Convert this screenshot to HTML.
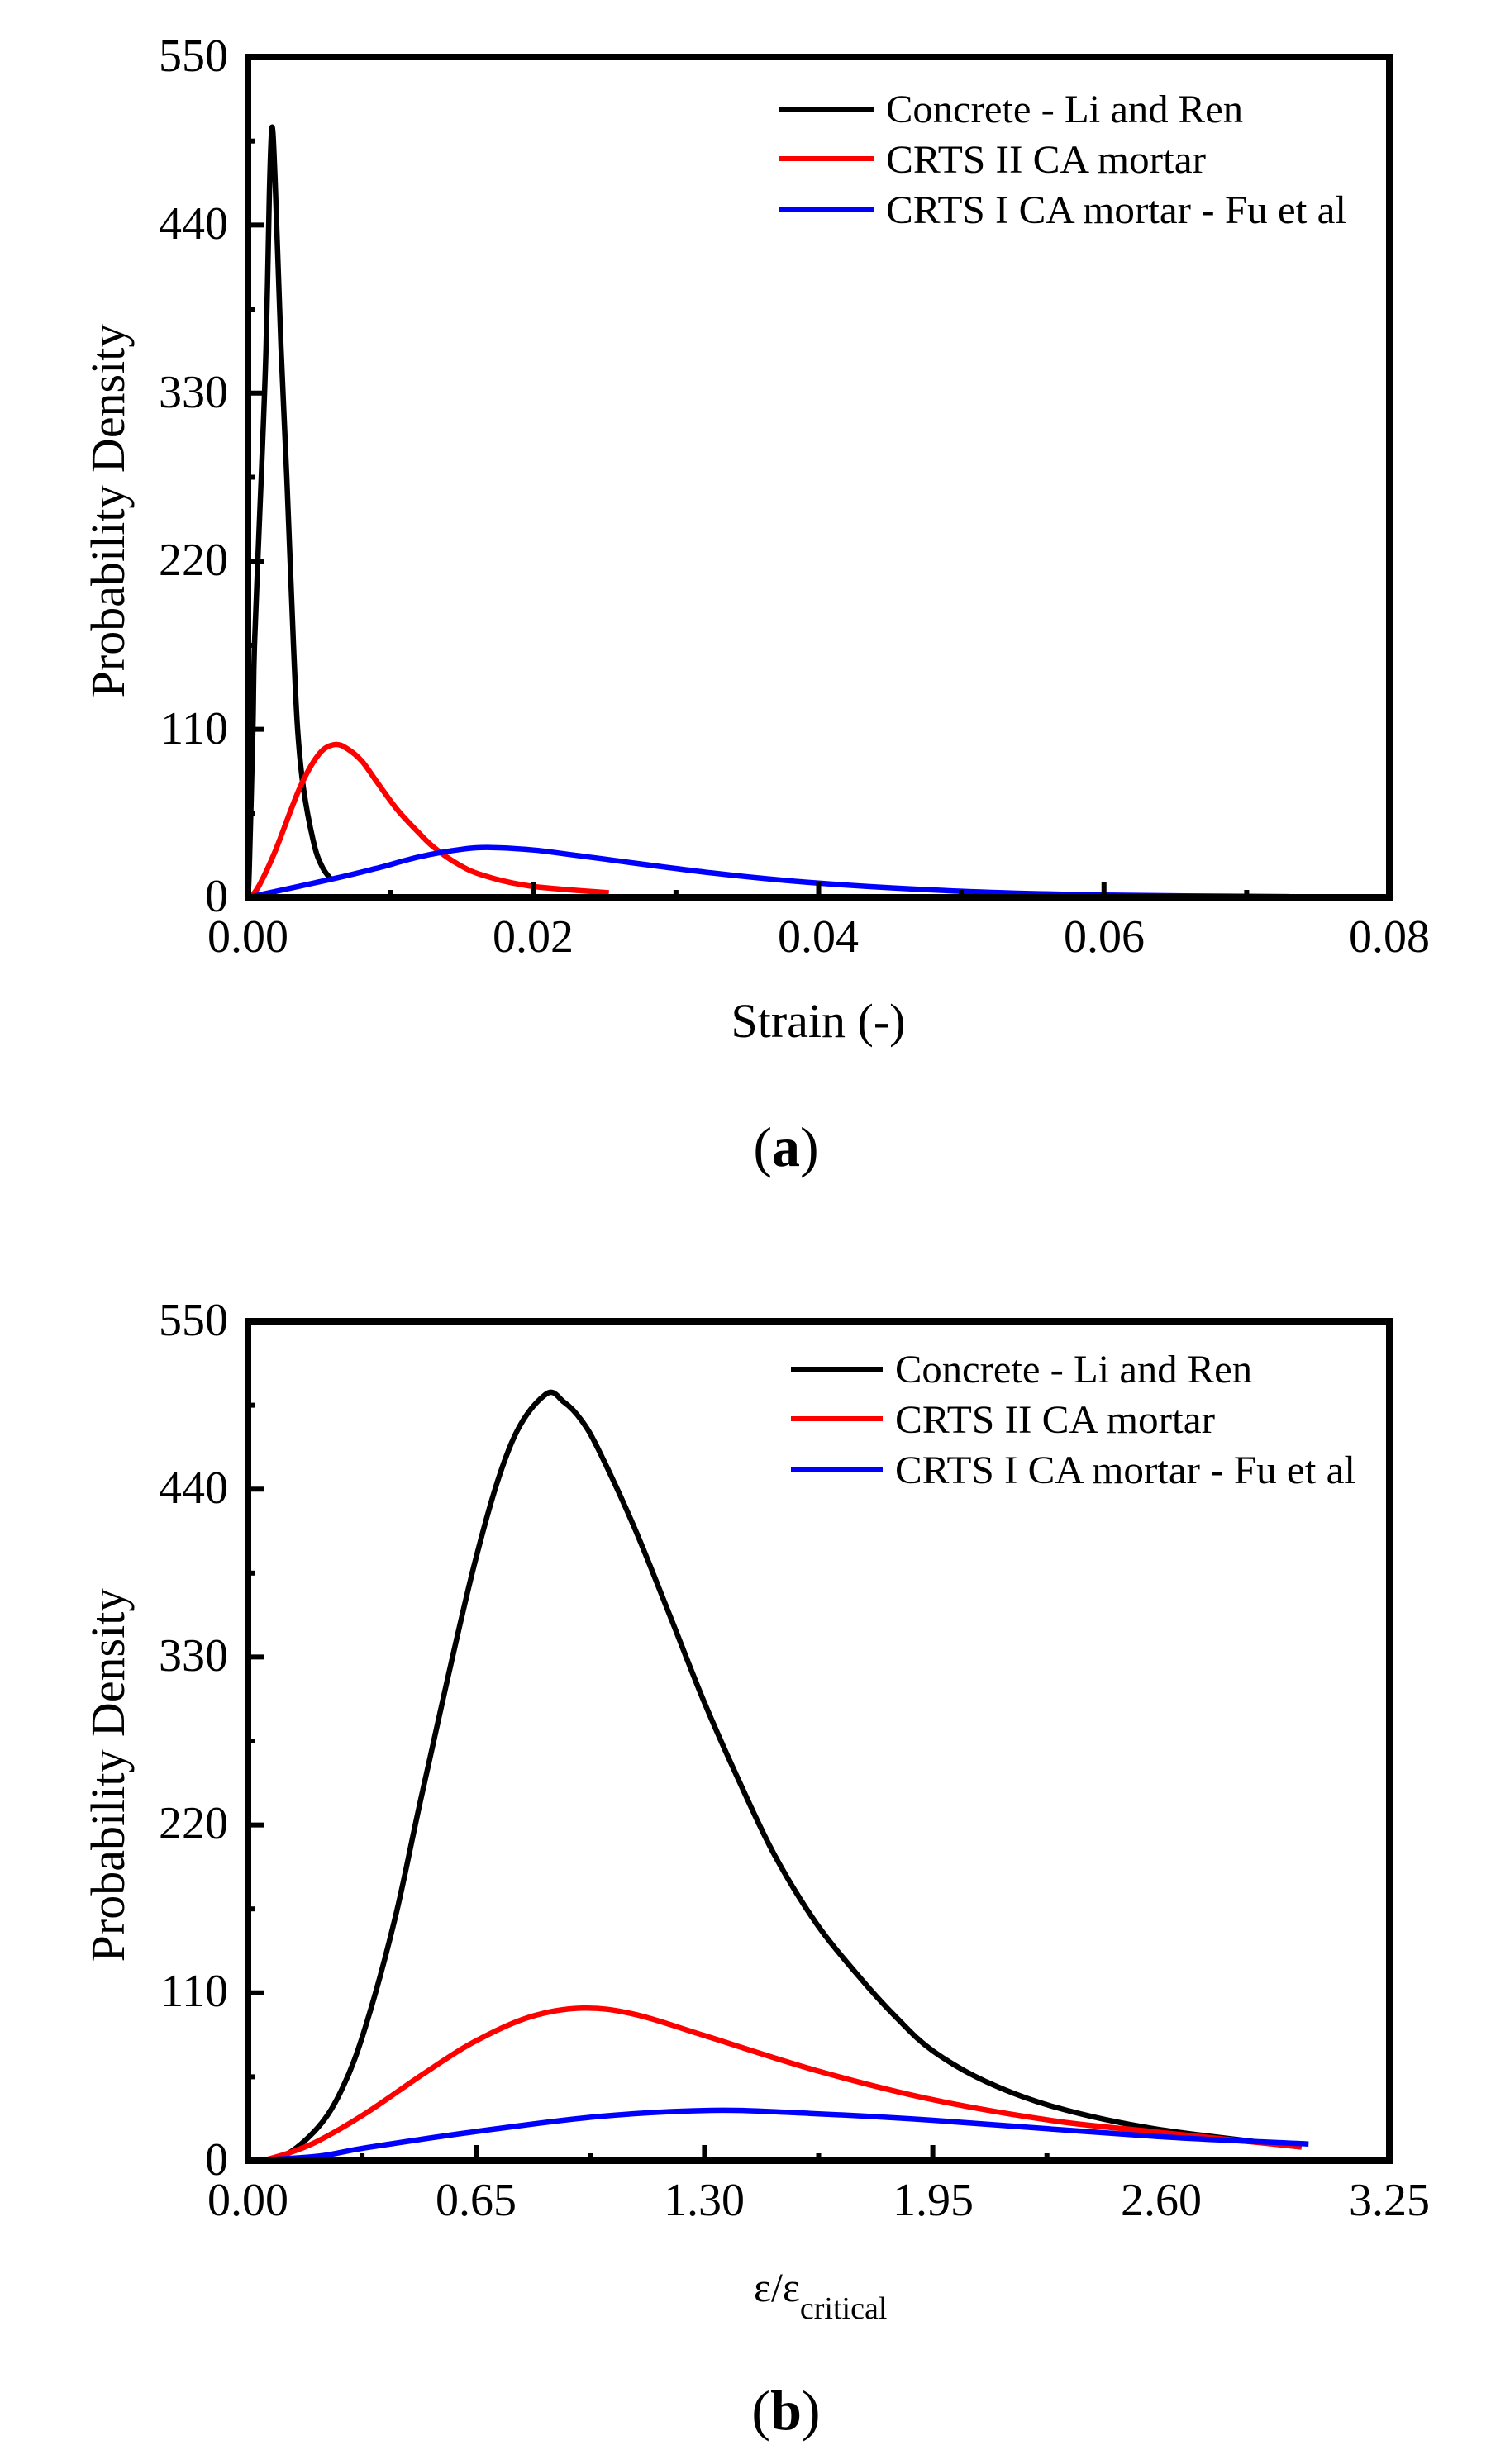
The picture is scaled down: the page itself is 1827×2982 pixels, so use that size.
<!DOCTYPE html>
<html><head><meta charset="utf-8">
<style>
html,body{margin:0;padding:0;background:#fff;}
svg{display:block;}
text{font-family:"Liberation Serif","Times New Roman",serif;fill:#000;}
</style></head>
<body>
<svg id="s" width="1827" height="2982" viewBox="0 0 1827 2982" xmlns="http://www.w3.org/2000/svg">
<rect width="1827" height="2982" fill="#fff"/>
<g id="ga"></g>
<g id="gb"></g>
<g font-size="56" text-anchor="end">
<text x="276" y="86">550</text>
<text x="276" y="289">440</text>
<text x="276" y="493">330</text>
<text x="276" y="696">220</text>
<text x="276" y="900">110</text>
<text x="276" y="1103">0</text>
</g>
<g font-size="56" text-anchor="middle">
<text x="300" y="1152">0.00</text>
<text x="645" y="1152">0.02</text>
<text x="990" y="1152">0.04</text>
<text x="1336" y="1152">0.06</text>
<text x="1681" y="1152">0.08</text>
</g>
<text x="990" y="1255" font-size="58" text-anchor="middle">Strain (-)</text>
<text transform="translate(150,618) rotate(-90)" font-size="58" text-anchor="middle">Probability Density</text>
<text x="951" y="1411" font-size="68" text-anchor="middle">(<tspan font-weight="bold">a</tspan>)</text>
<g stroke-width="6">
<line x1="943" y1="132" x2="1058" y2="132" stroke="#000"/>
<line x1="943" y1="192" x2="1058" y2="192" stroke="#f00"/>
<line x1="943" y1="253" x2="1058" y2="253" stroke="#00f"/>
</g>
<g font-size="48">
<text x="1072" y="148" textLength="432" lengthAdjust="spacingAndGlyphs">Concrete - Li and Ren</text>
<text x="1072" y="209" textLength="387" lengthAdjust="spacingAndGlyphs">CRTS II CA mortar</text>
<text x="1072" y="270" textLength="557" lengthAdjust="spacingAndGlyphs">CRTS I CA mortar - Fu et al</text>
</g>
<g font-size="56" text-anchor="end">
<text x="276" y="1616">550</text>
<text x="276" y="1819">440</text>
<text x="276" y="2022">330</text>
<text x="276" y="2225">220</text>
<text x="276" y="2428">110</text>
<text x="276" y="2632">0</text>
</g>
<g font-size="56" text-anchor="middle">
<text x="300" y="2681">0.00</text>
<text x="576" y="2681">0.65</text>
<text x="852" y="2681">1.30</text>
<text x="1129" y="2681">1.95</text>
<text x="1405" y="2681">2.60</text>
<text x="1681" y="2681">3.25</text>
</g>
<text x="912" y="2785" font-size="50">ε/ε<tspan font-size="38" dy="21">critical</tspan></text>
<text transform="translate(150,2148) rotate(-90)" font-size="58" text-anchor="middle">Probability Density</text>
<text x="951" y="2940" font-size="68" text-anchor="middle">(<tspan font-weight="bold">b</tspan>)</text>
<g stroke-width="6">
<line x1="957" y1="1657" x2="1068" y2="1657" stroke="#000"/>
<line x1="957" y1="1717" x2="1068" y2="1717" stroke="#f00"/>
<line x1="957" y1="1778" x2="1068" y2="1778" stroke="#00f"/>
</g>
<g font-size="48">
<text x="1083" y="1673" textLength="432" lengthAdjust="spacingAndGlyphs">Concrete - Li and Ren</text>
<text x="1083" y="1734" textLength="387" lengthAdjust="spacingAndGlyphs">CRTS II CA mortar</text>
<text x="1083" y="1795" textLength="557" lengthAdjust="spacingAndGlyphs">CRTS I CA mortar - Fu et al</text>
</g>
</svg>
<script>
var NS="http://www.w3.org/2000/svg";
function el(g,tag,attrs){var e=document.createElementNS(NS,tag);for(var k in attrs)e.setAttribute(k,attrs[k]);g.appendChild(e);return e;}
function cr(pts){
  var d="M"+pts[0][0].toFixed(1)+","+pts[0][1].toFixed(1);
  for(var i=0;i<pts.length-1;i++){
    var p0=pts[i-1]||pts[i],p1=pts[i],p2=pts[i+1],p3=pts[i+2]||p2;
    var c1=[p1[0]+(p2[0]-p0[0])/6,p1[1]+(p2[1]-p0[1])/6];
    var c2=[p2[0]-(p3[0]-p1[0])/6,p2[1]-(p3[1]-p1[1])/6];
    d+=" C"+c1[0].toFixed(1)+","+c1[1].toFixed(1)+" "+c2[0].toFixed(1)+","+c2[1].toFixed(1)+" "+p2[0].toFixed(1)+","+p2[1].toFixed(1);
  }
  return d;
}
function chart(gid,top,bot,xmax,xstep,series){
  var g=document.getElementById(gid),L=300,R=1681,W=R-L,H=bot-top;
  function X(v){return L+v/xmax*W;} function Y(v){return bot-v/550*H;}
  series.forEach(function(s){
    var pts=s.d.map(function(p){return [X(p[0]),Y(p[1])];});
    el(g,"path",{d:cr(pts),fill:"none",stroke:s.c,"stroke-width":6.5,"stroke-linejoin":"round"});
  });
  for(var i=1;i<10;i++){var y=Y(i*55),len=(i%2==0)?19:9;
    el(g,"line",{x1:L,y1:y,x2:L+len,y2:y,stroke:"#000","stroke-width":6});}
  for(var i=1;i<8;i++){var x=X(i*xstep),len=(i%2==0)?19:9;
    el(g,"line",{x1:x,y1:bot,x2:x,y2:bot-len,stroke:"#000","stroke-width":6});}
  el(g,"rect",{x:L,y:top,width:W,height:H,fill:"none",stroke:"#000","stroke-width":8});
}
chart("ga",69,1086,0.08,0.01,[
 {c:"#000",d:[[0,0],[0.0001,20],[0.00035,110],[0.00046,165],[0.00093,275],[0.00127,360],[0.0015,460],[0.00168,504],[0.0019,470],[0.00232,360],[0.00272,275],[0.00319,165],[0.00348,110],[0.00388,72],[0.00463,35],[0.0052,20],[0.0058,12]]},
 {c:"#f00",d:[[0.0002,0],[0.0008,8],[0.0019,30],[0.00365,72],[0.005,94],[0.0061,100],[0.007,97],[0.008,89],[0.009,76],[0.0105,57],[0.012,42],[0.013,33],[0.0145,23],[0.0163,15],[0.0197,7.5],[0.0253,3]]},
 {c:"#00f",d:[[0,0],[0.0059,12],[0.009,19],[0.012,26.5],[0.015,31.5],[0.017,32.6],[0.02,31],[0.023,27.5],[0.0325,16],[0.04,9.3],[0.05,4],[0.06,1.5],[0.073,0.5]]}
]);
chart("gb",1599,2615,3.25,0.325,[
 {c:"#000",d:[[0,0],[0.1,3],[0.2,22],[0.27,48],[0.335,88],[0.42,160],[0.5,245],[0.645,391],[0.75,470],[0.847,502],[0.9,497],[0.95,485],[1.0,465],[1.1,415],[1.2,358],[1.3,300],[1.4,248],[1.5,200],[1.62,155],[1.75,118],[1.85,93],[1.95,72],[2.1,52],[2.3,35],[2.58,21],[3.0,9]]},
 {c:"#f00",d:[[0.04,0],[0.115,5],[0.2,13],[0.335,31],[0.5,57],[0.645,78],[0.8,94],[0.952,100],[1.1,96],[1.3,82],[1.62,59],[1.95,40],[2.3,26],[2.58,19],[3.0,9]]},
 {c:"#00f",d:[[0,0],[0.2,3],[0.335,8.5],[0.645,19],[1.0,29],[1.32,33],[1.6,31],[1.95,26.5],[2.58,16],[3.02,11]]}
]);
</script>
</body></html>
